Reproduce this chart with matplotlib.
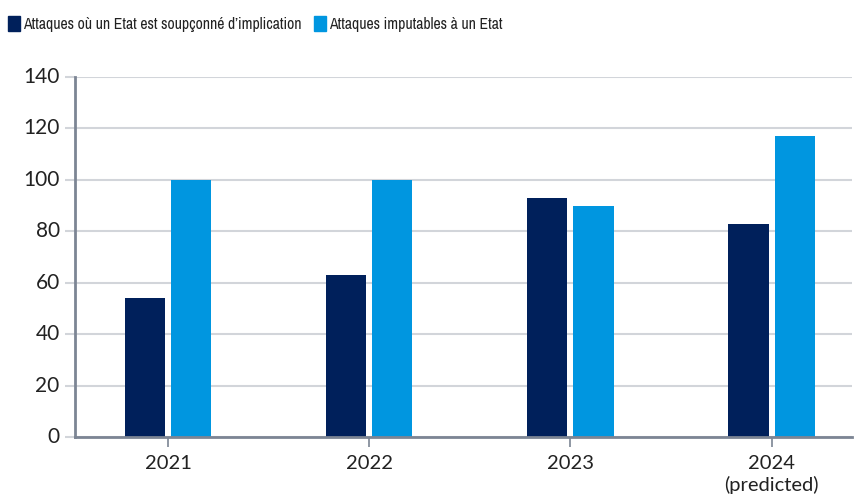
import matplotlib
matplotlib.use("Agg")
import matplotlib.pyplot as plt
from matplotlib import font_manager
import numpy as np

# Data
categories = ["2021", "2022", "2023", "2024\n(predicted)"]
suspected = [54, 63, 93, 83]
attributed = [100, 100, 90, 117]
series_labels = ["Attaques où un Etat est soupçonné d’implication",
                 "Attaques imputables à un Etat"]
y_ticks = [0, 20, 40, 60, 80, 100, 120, 140]

dark = "#00205B"
light = "#0096E0"
axis_gray = "#7C8594"
grid_gray = "#D2D5DA"
text_col = "#222222"

plt.rcParams["font.family"] = ["Lato", "DejaVu Sans"]

fig = plt.figure(figsize=(8.56, 5.01), dpi=100)
ax = fig.add_axes([75 / 856, (501 - 437) / 501, (852 - 75) / 856, (437 - 77) / 501])

x = np.arange(len(categories))
w = 0.2
off = 0.115
ax.bar(x - off, suspected, width=w, color=dark, zorder=3)
ax.bar(x + off, attributed, width=w, color=light, zorder=3)

ax.set_xlim(-0.462, 3.40)
ax.set_ylim(0, 140)
ax.set_yticks(y_ticks)
ax.set_yticklabels([str(v) for v in y_ticks], fontsize=15, color=text_col)
ax.set_xticks(x)
ax.set_xticklabels(categories, fontsize=14.5, color=text_col, linespacing=1.25)

ax.grid(axis="y", color=grid_gray, linewidth=1.5, zorder=0)
ax.set_axisbelow(True)
for s in ["top", "right"]:
    ax.spines[s].set_visible(False)
ax.spines["left"].set_color(axis_gray)
ax.spines["left"].set_linewidth(2)
ax.spines["bottom"].set_color(axis_gray)
ax.spines["bottom"].set_linewidth(2)
ax.spines["bottom"].set_zorder(4)
ax.tick_params(axis="y", length=7, width=1.5, color=grid_gray, pad=4)
ax.tick_params(axis="x", length=7, width=1.2, color=axis_gray, pad=6)
for lbl in ax.get_yticklabels():
    lbl.set_verticalalignment("center")

# Prefer a condensed sans face for the legend if one is installed
def pick_narrow_font():
    found = []
    for f in font_manager.fontManager.ttflist:
        name = f.name.lower()
        if any(k in name for k in ("condensed", "narrow")) and "mono" not in name \
                and "serif" not in name and f.style == "normal":
            found.append(f.name)
    if not found:
        return None
    # fully condensed faces before semi-condensed ones
    found.sort(key=lambda n: ("semi" in n.lower(), n))
    return found[0]

narrow = pick_narrow_font()
legend_family = [narrow, "DejaVu Sans"] if narrow else ["Lato", "DejaVu Sans"]

renderer = fig.canvas.get_renderer()

# Legend drawn as patches and text in figure coordinates
legend_x = [8, 314]
legend_colors = [dark, light]
texts = []
for x0, color, label in zip(legend_x, legend_colors, series_labels):
    fig.patches.append(plt.Rectangle((x0 / 856, 1 - 31 / 501), 12 / 856, 15 / 501,
                                     transform=fig.transFigure, color=color))
    texts.append(fig.text((x0 + 15) / 856, 1 - 24 / 501, label, fontsize=14,
                          color=text_col, va="center", ha="left",
                          family=legend_family))

first_w = texts[0].get_window_extent(renderer).width
size = min(15, 14 * 276 / first_w)
for t in texts:
    t.set_fontsize(size)

fig.savefig("out.png", dpi=100)
